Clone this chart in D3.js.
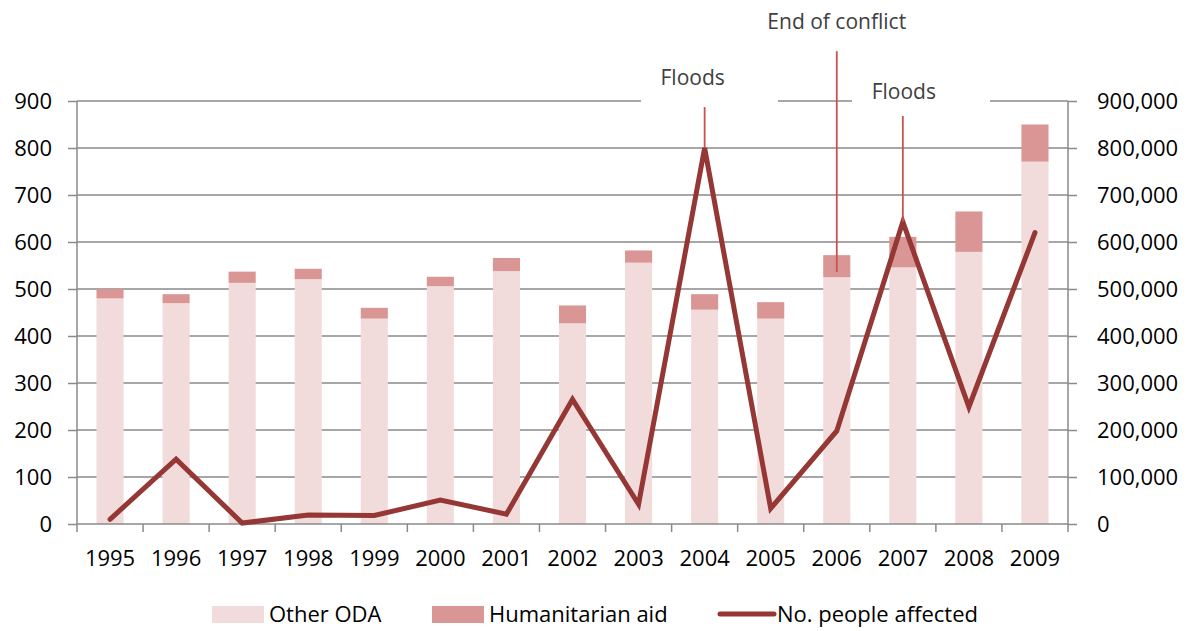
<!DOCTYPE html>
<html>
<head>
<meta charset="utf-8">
<script src="https://cdn.jsdelivr.net/npm/d3@7"></script>
<style>
  body { margin: 0; background: #fff; }
  svg text { font-family: "Open Sans", sans-serif; }
</style>
</head>
<body>
<svg width="1190" height="631"></svg>
<script>
// Data
const years = ["1995", "1996", "1997", "1998", "1999", "2000", "2001", "2002",
  "2003", "2004", "2005", "2006", "2007", "2008", "2009"];
const otherODA = [480, 470, 513, 521, 437, 506, 538, 427, 556, 456, 437, 525, 546, 579, 771];
const humanitarian = [20, 19, 24, 22, 23, 20, 28, 38, 26, 33, 35, 47, 65, 86, 79];
const peopleAffected = [10000, 138000, 2000, 19000, 18000, 51000, 21000, 265000,
  42000, 800000, 33000, 198000, 643000, 249000, 620000];
const leftTicks = [0, 100, 200, 300, 400, 500, 600, 700, 800, 900];
const rightTicks = [0, 100000, 200000, 300000, 400000, 500000, 600000, 700000, 800000, 900000];
const events = [
  { year: "2004", label: "Floods", top: 887, bottom: 800, labelTop: 934 },
  { year: "2006", label: "End of conflict", top: 1006, bottom: 536, labelTop: 1053 },
  { year: "2007", label: "Floods", top: 868, bottom: 643, labelTop: 904 }
];

const svg = d3.select("svg");
const pLeft = 77, pRight = 1068, pTop = 101, pBottom = 524;

const x = d3.scaleBand().domain(years).range([pLeft, pRight]).padding(0);
const bw = x.bandwidth();
const barW = bw * 0.41;
const yL = d3.scaleLinear().domain([0, 900]).range([pBottom, pTop]);
const yR = d3.scaleLinear().domain([0, 900000]).range([pBottom, pTop]);

const grey = "#8a8a8a";

// gridlines
svg.append("g")
  .selectAll("line")
  .data(leftTicks.slice(1))
  .enter()
  .append("line")
  .attr("x1", pLeft).attr("x2", pRight)
  .attr("y1", d => yL(d)).attr("y2", d => yL(d))
  .attr("stroke", grey).attr("stroke-width", 1.5);

// white boxes behind annotation labels (they cover the top gridline)
const labelBoxes = [[641, 778], [852, 990]];
svg.append("g")
  .selectAll("rect")
  .data(labelBoxes)
  .enter()
  .append("rect")
  .attr("x", d => d[0]).attr("width", d => d[1] - d[0])
  .attr("y", pTop - 6).attr("height", 12)
  .attr("fill", "#fff");

// bars
const stacks = years.map((y, i) => ({ year: y, oda: otherODA[i], hum: humanitarian[i] }));
const bars = svg.append("g");
bars.selectAll(".oda")
  .data(stacks)
  .enter()
  .append("rect")
  .attr("class", "oda")
  .attr("x", d => x(d.year) + (bw - barW) / 2)
  .attr("width", barW)
  .attr("y", d => yL(d.oda))
  .attr("height", d => pBottom - yL(d.oda))
  .attr("fill", "#f2dcdb");
bars.selectAll(".hum")
  .data(stacks)
  .enter()
  .append("rect")
  .attr("class", "hum")
  .attr("x", d => x(d.year) + (bw - barW) / 2)
  .attr("width", barW)
  .attr("y", d => yL(d.oda + d.hum))
  .attr("height", d => yL(d.oda) - yL(d.oda + d.hum))
  .attr("fill", "#d99694");

// axes
const axL = svg.append("g").attr("transform", `translate(${pLeft},0)`)
  .call(d3.axisLeft(yL).tickValues(leftTicks).tickSize(9).tickPadding(16));
const axR = svg.append("g").attr("transform", `translate(${pRight},0)`)
  .call(d3.axisRight(yR).tickValues(rightTicks).tickSize(9).tickPadding(20)
    .tickFormat(d3.format(",")));
const axB = svg.append("g").attr("transform", `translate(0,${pBottom})`)
  .call(d3.axisBottom(x).tickSize(0).tickPadding(26));
// x ticks sit between the categories
svg.append("g")
  .selectAll("line")
  .data(years.concat(["end"]))
  .enter()
  .append("line")
  .attr("x1", (d, i) => pLeft + i * bw).attr("x2", (d, i) => pLeft + i * bw)
  .attr("y1", pBottom).attr("y2", pBottom + 8)
  .attr("stroke", grey).attr("stroke-width", 1.5);

[axL, axR, axB].forEach(a => {
  a.select(".domain").attr("stroke", grey).attr("stroke-width", 1.5);
  a.selectAll(".tick line").attr("stroke", grey).attr("stroke-width", 1.5);
  a.selectAll("text").attr("font-size", 22).attr("fill", "#000")
    .style("font-family", "Open Sans, sans-serif");
});
axL.select(".domain").attr("d", `M0,${pTop}V${pBottom}`);
axR.select(".domain").attr("d", `M0,${pTop}V${pBottom}`);
axB.select(".domain").attr("d", `M${pLeft},0H${pRight}`);

// people affected line
const line = d3.line()
  .x((d, i) => x(years[i]) + bw / 2)
  .y(d => yR(d));
svg.append("path")
  .datum(peopleAffected)
  .attr("d", line)
  .attr("fill", "none")
  .attr("stroke", "#953735")
  .attr("stroke-width", 5)
  .attr("stroke-linejoin", "miter")
  .attr("stroke-linecap", "round");

// event markers
const ev = svg.append("g");
ev.selectAll("line")
  .data(events)
  .enter()
  .append("line")
  .attr("x1", d => x(d.year) + bw / 2).attr("x2", d => x(d.year) + bw / 2)
  .attr("y1", d => yL(d.top)).attr("y2", d => yL(d.bottom))
  .attr("stroke", "#c9514f").attr("stroke-width", 1.8);
ev.selectAll("text")
  .data(events)
  .enter()
  .append("text")
  .attr("x", (d, i) => x(d.year) + bw / 2 + [-12, 0, 1][i])
  .attr("y", d => yL(d.labelTop))
  .attr("text-anchor", "middle")
  .attr("font-size", 21)
  .attr("fill", "#404040")
  .text(d => d.label);

// legend
const lg = svg.append("g").attr("transform", "translate(0,614)");
lg.append("rect").attr("x", 212).attr("y", -8).attr("width", 52).attr("height", 17).attr("fill", "#f2dcdb");
lg.append("text").attr("x", 269).attr("y", 8).attr("font-size", 22).text("Other ODA");
lg.append("rect").attr("x", 432).attr("y", -8).attr("width", 52).attr("height", 17).attr("fill", "#d99694");
lg.append("text").attr("x", 489).attr("y", 8).attr("font-size", 22).text("Humanitarian aid");
lg.append("line").attr("x1", 720).attr("x2", 774).attr("y1", 0).attr("y2", 0)
  .attr("stroke", "#953735").attr("stroke-width", 5).attr("stroke-linecap", "round");
lg.append("text").attr("x", 777).attr("y", 8).attr("font-size", 22).text("No. people affected");
</script>
</body>
</html>
